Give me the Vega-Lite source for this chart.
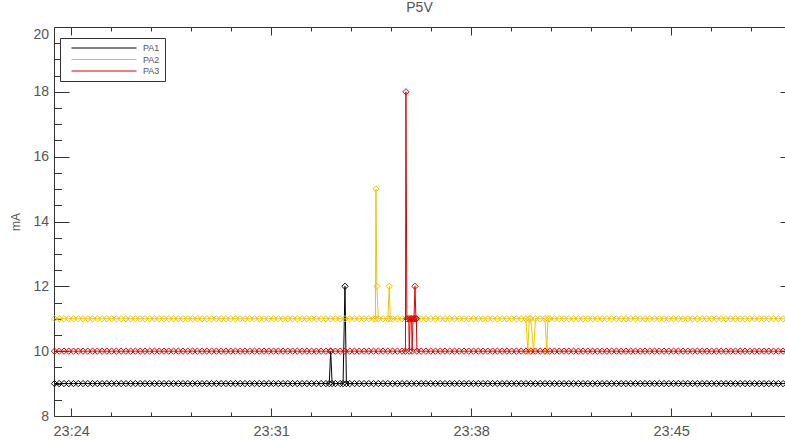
{
  "$schema": "https://vega.github.io/schema/vega-lite/v6.json",
  "width": 731,
  "height": 389,
  "autosize": "none",
  "padding": {"left": 54, "top": 27, "right": 0, "bottom": 25},
  "title": {"text": "P5V", "fontSize": 14, "fontWeight": "normal", "color": "#555", "offset": 12, "font": "Liberation Sans"},
  "data": {
    "format": {"parse": {"t": "utc:'%H:%M:%S'"}},
    "values": [
      {"s":"PA1","t":"23:23:25","v":9},{"s":"PA1","t":"23:23:35","v":9},{"s":"PA1","t":"23:23:45","v":9},{"s":"PA1","t":"23:23:55","v":9},
      {"s":"PA1","t":"23:24:05","v":9},{"s":"PA1","t":"23:24:15","v":9},{"s":"PA1","t":"23:24:25","v":9},{"s":"PA1","t":"23:24:35","v":9},{"s":"PA1","t":"23:24:45","v":9},{"s":"PA1","t":"23:24:55","v":9},
      {"s":"PA1","t":"23:25:05","v":9},{"s":"PA1","t":"23:25:15","v":9},{"s":"PA1","t":"23:25:25","v":9},{"s":"PA1","t":"23:25:35","v":9},{"s":"PA1","t":"23:25:45","v":9},{"s":"PA1","t":"23:25:55","v":9},
      {"s":"PA1","t":"23:26:05","v":9},{"s":"PA1","t":"23:26:15","v":9},{"s":"PA1","t":"23:26:25","v":9},{"s":"PA1","t":"23:26:35","v":9},{"s":"PA1","t":"23:26:45","v":9},{"s":"PA1","t":"23:26:55","v":9},
      {"s":"PA1","t":"23:27:05","v":9},{"s":"PA1","t":"23:27:15","v":9},{"s":"PA1","t":"23:27:25","v":9},{"s":"PA1","t":"23:27:35","v":9},{"s":"PA1","t":"23:27:45","v":9},{"s":"PA1","t":"23:27:55","v":9},
      {"s":"PA1","t":"23:28:05","v":9},{"s":"PA1","t":"23:28:15","v":9},{"s":"PA1","t":"23:28:25","v":9},{"s":"PA1","t":"23:28:35","v":9},{"s":"PA1","t":"23:28:45","v":9},{"s":"PA1","t":"23:28:55","v":9},
      {"s":"PA1","t":"23:29:05","v":9},{"s":"PA1","t":"23:29:15","v":9},{"s":"PA1","t":"23:29:25","v":9},{"s":"PA1","t":"23:29:35","v":9},{"s":"PA1","t":"23:29:45","v":9},{"s":"PA1","t":"23:29:55","v":9},
      {"s":"PA1","t":"23:30:05","v":9},{"s":"PA1","t":"23:30:15","v":9},{"s":"PA1","t":"23:30:25","v":9},{"s":"PA1","t":"23:30:35","v":9},{"s":"PA1","t":"23:30:45","v":9},{"s":"PA1","t":"23:30:55","v":9},
      {"s":"PA1","t":"23:31:05","v":9},{"s":"PA1","t":"23:31:15","v":9},{"s":"PA1","t":"23:31:25","v":9},{"s":"PA1","t":"23:31:35","v":9},{"s":"PA1","t":"23:31:45","v":9},{"s":"PA1","t":"23:31:55","v":9},
      {"s":"PA1","t":"23:32:05","v":9},{"s":"PA1","t":"23:32:15","v":9},{"s":"PA1","t":"23:32:25","v":9},{"s":"PA1","t":"23:32:35","v":9},{"s":"PA1","t":"23:32:45","v":9},{"s":"PA1","t":"23:32:55","v":9},
      {"s":"PA1","t":"23:33:02","v":9},{"s":"PA1","t":"23:33:05","v":10},{"s":"PA1","t":"23:33:08","v":9},{"s":"PA1","t":"23:33:15","v":9},{"s":"PA1","t":"23:33:25","v":9},{"s":"PA1","t":"23:33:31","v":9},{"s":"PA1","t":"23:33:35","v":12},{"s":"PA1","t":"23:33:38","v":9},{"s":"PA1","t":"23:33:45","v":9},{"s":"PA1","t":"23:33:55","v":9},
      {"s":"PA1","t":"23:34:05","v":9},{"s":"PA1","t":"23:34:15","v":9},{"s":"PA1","t":"23:34:25","v":9},{"s":"PA1","t":"23:34:35","v":9},{"s":"PA1","t":"23:34:45","v":9},{"s":"PA1","t":"23:34:55","v":9},
      {"s":"PA1","t":"23:35:05","v":9},{"s":"PA1","t":"23:35:15","v":9},{"s":"PA1","t":"23:35:25","v":9},{"s":"PA1","t":"23:35:35","v":9},{"s":"PA1","t":"23:35:45","v":9},{"s":"PA1","t":"23:35:55","v":9},
      {"s":"PA1","t":"23:36:05","v":9},{"s":"PA1","t":"23:36:15","v":9},{"s":"PA1","t":"23:36:25","v":9},{"s":"PA1","t":"23:36:35","v":9},{"s":"PA1","t":"23:36:45","v":9},{"s":"PA1","t":"23:36:55","v":9},
      {"s":"PA1","t":"23:37:05","v":9},{"s":"PA1","t":"23:37:15","v":9},{"s":"PA1","t":"23:37:25","v":9},{"s":"PA1","t":"23:37:35","v":9},{"s":"PA1","t":"23:37:45","v":9},{"s":"PA1","t":"23:37:55","v":9},
      {"s":"PA1","t":"23:38:05","v":9},{"s":"PA1","t":"23:38:15","v":9},{"s":"PA1","t":"23:38:25","v":9},{"s":"PA1","t":"23:38:35","v":9},{"s":"PA1","t":"23:38:45","v":9},{"s":"PA1","t":"23:38:55","v":9},
      {"s":"PA1","t":"23:39:05","v":9},{"s":"PA1","t":"23:39:15","v":9},{"s":"PA1","t":"23:39:25","v":9},{"s":"PA1","t":"23:39:35","v":9},{"s":"PA1","t":"23:39:45","v":9},{"s":"PA1","t":"23:39:55","v":9},
      {"s":"PA1","t":"23:40:05","v":9},{"s":"PA1","t":"23:40:15","v":9},{"s":"PA1","t":"23:40:25","v":9},{"s":"PA1","t":"23:40:35","v":9},{"s":"PA1","t":"23:40:45","v":9},{"s":"PA1","t":"23:40:55","v":9},
      {"s":"PA1","t":"23:41:05","v":9},{"s":"PA1","t":"23:41:15","v":9},{"s":"PA1","t":"23:41:25","v":9},{"s":"PA1","t":"23:41:35","v":9},{"s":"PA1","t":"23:41:45","v":9},{"s":"PA1","t":"23:41:55","v":9},
      {"s":"PA1","t":"23:42:05","v":9},{"s":"PA1","t":"23:42:15","v":9},{"s":"PA1","t":"23:42:25","v":9},{"s":"PA1","t":"23:42:35","v":9},{"s":"PA1","t":"23:42:45","v":9},{"s":"PA1","t":"23:42:55","v":9},
      {"s":"PA1","t":"23:43:05","v":9},{"s":"PA1","t":"23:43:15","v":9},{"s":"PA1","t":"23:43:25","v":9},{"s":"PA1","t":"23:43:35","v":9},{"s":"PA1","t":"23:43:45","v":9},{"s":"PA1","t":"23:43:55","v":9},
      {"s":"PA1","t":"23:44:05","v":9},{"s":"PA1","t":"23:44:15","v":9},{"s":"PA1","t":"23:44:25","v":9},{"s":"PA1","t":"23:44:35","v":9},{"s":"PA1","t":"23:44:45","v":9},{"s":"PA1","t":"23:44:55","v":9},
      {"s":"PA1","t":"23:45:05","v":9},{"s":"PA1","t":"23:45:15","v":9},{"s":"PA1","t":"23:45:25","v":9},{"s":"PA1","t":"23:45:35","v":9},{"s":"PA1","t":"23:45:45","v":9},{"s":"PA1","t":"23:45:55","v":9},
      {"s":"PA1","t":"23:46:05","v":9},{"s":"PA1","t":"23:46:15","v":9},{"s":"PA1","t":"23:46:25","v":9},{"s":"PA1","t":"23:46:35","v":9},{"s":"PA1","t":"23:46:45","v":9},{"s":"PA1","t":"23:46:55","v":9},
      {"s":"PA1","t":"23:47:05","v":9},{"s":"PA1","t":"23:47:15","v":9},{"s":"PA1","t":"23:47:25","v":9},{"s":"PA1","t":"23:47:35","v":9},{"s":"PA1","t":"23:47:45","v":9},{"s":"PA1","t":"23:47:55","v":9},
      {"s":"PA1","t":"23:48:05","v":9},{"s":"PA1","t":"23:48:15","v":9},{"s":"PA1","t":"23:48:25","v":9},{"s":"PA1","t":"23:48:35","v":9},{"s":"PA1","t":"23:48:45","v":9},{"s":"PA1","t":"23:48:55","v":9},
      {"s":"PA1","t":"23:49:05","v":9},

      {"s":"PA2","t":"23:23:25","v":11},{"s":"PA2","t":"23:23:35","v":11},{"s":"PA2","t":"23:23:45","v":11},{"s":"PA2","t":"23:23:55","v":11},
      {"s":"PA2","t":"23:24:05","v":11},{"s":"PA2","t":"23:24:15","v":11},{"s":"PA2","t":"23:24:25","v":11},{"s":"PA2","t":"23:24:35","v":11},{"s":"PA2","t":"23:24:45","v":11},{"s":"PA2","t":"23:24:55","v":11},
      {"s":"PA2","t":"23:25:05","v":11},{"s":"PA2","t":"23:25:15","v":11},{"s":"PA2","t":"23:25:25","v":11},{"s":"PA2","t":"23:25:35","v":11},{"s":"PA2","t":"23:25:45","v":11},{"s":"PA2","t":"23:25:55","v":11},
      {"s":"PA2","t":"23:26:05","v":11},{"s":"PA2","t":"23:26:15","v":11},{"s":"PA2","t":"23:26:25","v":11},{"s":"PA2","t":"23:26:35","v":11},{"s":"PA2","t":"23:26:45","v":11},{"s":"PA2","t":"23:26:55","v":11},
      {"s":"PA2","t":"23:27:05","v":11},{"s":"PA2","t":"23:27:15","v":11},{"s":"PA2","t":"23:27:25","v":11},{"s":"PA2","t":"23:27:35","v":11},{"s":"PA2","t":"23:27:45","v":11},{"s":"PA2","t":"23:27:55","v":11},
      {"s":"PA2","t":"23:28:05","v":11},{"s":"PA2","t":"23:28:15","v":11},{"s":"PA2","t":"23:28:25","v":11},{"s":"PA2","t":"23:28:35","v":11},{"s":"PA2","t":"23:28:45","v":11},{"s":"PA2","t":"23:28:55","v":11},
      {"s":"PA2","t":"23:29:05","v":11},{"s":"PA2","t":"23:29:15","v":11},{"s":"PA2","t":"23:29:25","v":11},{"s":"PA2","t":"23:29:35","v":11},{"s":"PA2","t":"23:29:45","v":11},{"s":"PA2","t":"23:29:55","v":11},
      {"s":"PA2","t":"23:30:05","v":11},{"s":"PA2","t":"23:30:15","v":11},{"s":"PA2","t":"23:30:25","v":11},{"s":"PA2","t":"23:30:35","v":11},{"s":"PA2","t":"23:30:45","v":11},{"s":"PA2","t":"23:30:55","v":11},
      {"s":"PA2","t":"23:31:05","v":11},{"s":"PA2","t":"23:31:15","v":11},{"s":"PA2","t":"23:31:25","v":11},{"s":"PA2","t":"23:31:35","v":11},{"s":"PA2","t":"23:31:45","v":11},{"s":"PA2","t":"23:31:55","v":11},
      {"s":"PA2","t":"23:32:05","v":11},{"s":"PA2","t":"23:32:15","v":11},{"s":"PA2","t":"23:32:25","v":11},{"s":"PA2","t":"23:32:35","v":11},{"s":"PA2","t":"23:32:45","v":11},{"s":"PA2","t":"23:32:55","v":11},
      {"s":"PA2","t":"23:33:05","v":11},{"s":"PA2","t":"23:33:15","v":11},{"s":"PA2","t":"23:33:25","v":11},{"s":"PA2","t":"23:33:35","v":11},{"s":"PA2","t":"23:33:45","v":11},{"s":"PA2","t":"23:33:55","v":11},
      {"s":"PA2","t":"23:34:05","v":11},{"s":"PA2","t":"23:34:15","v":11},{"s":"PA2","t":"23:34:25","v":11},{"s":"PA2","t":"23:34:35","v":11},{"s":"PA2","t":"23:34:39","v":11},{"s":"PA2","t":"23:34:40","v":15},{"s":"PA2","t":"23:34:42","v":12},{"s":"PA2","t":"23:34:45","v":11},{"s":"PA2","t":"23:34:55","v":11},
      {"s":"PA2","t":"23:35:05","v":11},{"s":"PA2","t":"23:35:08","v":12},{"s":"PA2","t":"23:35:10","v":11},{"s":"PA2","t":"23:35:15","v":11},{"s":"PA2","t":"23:35:25","v":11},{"s":"PA2","t":"23:35:35","v":11},{"s":"PA2","t":"23:35:45","v":11},{"s":"PA2","t":"23:35:55","v":11},
      {"s":"PA2","t":"23:36:05","v":11},{"s":"PA2","t":"23:36:15","v":11},{"s":"PA2","t":"23:36:25","v":11},{"s":"PA2","t":"23:36:35","v":11},{"s":"PA2","t":"23:36:45","v":11},{"s":"PA2","t":"23:36:55","v":11},
      {"s":"PA2","t":"23:37:05","v":11},{"s":"PA2","t":"23:37:15","v":11},{"s":"PA2","t":"23:37:25","v":11},{"s":"PA2","t":"23:37:35","v":11},{"s":"PA2","t":"23:37:45","v":11},{"s":"PA2","t":"23:37:55","v":11},
      {"s":"PA2","t":"23:38:05","v":11},{"s":"PA2","t":"23:38:15","v":11},{"s":"PA2","t":"23:38:25","v":11},{"s":"PA2","t":"23:38:35","v":11},{"s":"PA2","t":"23:38:45","v":11},{"s":"PA2","t":"23:38:55","v":11},
      {"s":"PA2","t":"23:39:05","v":11},{"s":"PA2","t":"23:39:15","v":11},{"s":"PA2","t":"23:39:25","v":11},{"s":"PA2","t":"23:39:35","v":11},{"s":"PA2","t":"23:39:45","v":11},{"s":"PA2","t":"23:39:55","v":11},
      {"s":"PA2","t":"23:39:59","v":10},{"s":"PA2","t":"23:40:02","v":11},{"s":"PA2","t":"23:40:05","v":11},{"s":"PA2","t":"23:40:11","v":10},
      {"s":"PA2","t":"23:40:15","v":11},{"s":"PA2","t":"23:40:25","v":11},{"s":"PA2","t":"23:40:35","v":11},{"s":"PA2","t":"23:40:39","v":10},{"s":"PA2","t":"23:40:41","v":11},{"s":"PA2","t":"23:40:45","v":11},{"s":"PA2","t":"23:40:55","v":11},
      {"s":"PA2","t":"23:41:05","v":11},{"s":"PA2","t":"23:41:15","v":11},{"s":"PA2","t":"23:41:25","v":11},{"s":"PA2","t":"23:41:35","v":11},{"s":"PA2","t":"23:41:45","v":11},{"s":"PA2","t":"23:41:55","v":11},
      {"s":"PA2","t":"23:42:05","v":11},{"s":"PA2","t":"23:42:15","v":11},{"s":"PA2","t":"23:42:25","v":11},{"s":"PA2","t":"23:42:35","v":11},{"s":"PA2","t":"23:42:45","v":11},{"s":"PA2","t":"23:42:55","v":11},
      {"s":"PA2","t":"23:43:05","v":11},{"s":"PA2","t":"23:43:15","v":11},{"s":"PA2","t":"23:43:25","v":11},{"s":"PA2","t":"23:43:35","v":11},{"s":"PA2","t":"23:43:45","v":11},{"s":"PA2","t":"23:43:55","v":11},
      {"s":"PA2","t":"23:44:05","v":11},{"s":"PA2","t":"23:44:15","v":11},{"s":"PA2","t":"23:44:25","v":11},{"s":"PA2","t":"23:44:35","v":11},{"s":"PA2","t":"23:44:45","v":11},{"s":"PA2","t":"23:44:55","v":11},
      {"s":"PA2","t":"23:45:05","v":11},{"s":"PA2","t":"23:45:15","v":11},{"s":"PA2","t":"23:45:25","v":11},{"s":"PA2","t":"23:45:35","v":11},{"s":"PA2","t":"23:45:45","v":11},{"s":"PA2","t":"23:45:55","v":11},
      {"s":"PA2","t":"23:46:05","v":11},{"s":"PA2","t":"23:46:15","v":11},{"s":"PA2","t":"23:46:25","v":11},{"s":"PA2","t":"23:46:35","v":11},{"s":"PA2","t":"23:46:45","v":11},{"s":"PA2","t":"23:46:55","v":11},
      {"s":"PA2","t":"23:47:05","v":11},{"s":"PA2","t":"23:47:15","v":11},{"s":"PA2","t":"23:47:25","v":11},{"s":"PA2","t":"23:47:35","v":11},{"s":"PA2","t":"23:47:45","v":11},{"s":"PA2","t":"23:47:55","v":11},
      {"s":"PA2","t":"23:48:05","v":11},{"s":"PA2","t":"23:48:15","v":11},{"s":"PA2","t":"23:48:25","v":11},{"s":"PA2","t":"23:48:35","v":11},{"s":"PA2","t":"23:48:45","v":11},{"s":"PA2","t":"23:48:55","v":11},
      {"s":"PA2","t":"23:49:05","v":11},

      {"s":"PA3","t":"23:23:25","v":10},{"s":"PA3","t":"23:23:35","v":10},{"s":"PA3","t":"23:23:45","v":10},{"s":"PA3","t":"23:23:55","v":10},
      {"s":"PA3","t":"23:24:05","v":10},{"s":"PA3","t":"23:24:15","v":10},{"s":"PA3","t":"23:24:25","v":10},{"s":"PA3","t":"23:24:35","v":10},{"s":"PA3","t":"23:24:45","v":10},{"s":"PA3","t":"23:24:55","v":10},
      {"s":"PA3","t":"23:25:05","v":10},{"s":"PA3","t":"23:25:15","v":10},{"s":"PA3","t":"23:25:25","v":10},{"s":"PA3","t":"23:25:35","v":10},{"s":"PA3","t":"23:25:45","v":10},{"s":"PA3","t":"23:25:55","v":10},
      {"s":"PA3","t":"23:26:05","v":10},{"s":"PA3","t":"23:26:15","v":10},{"s":"PA3","t":"23:26:25","v":10},{"s":"PA3","t":"23:26:35","v":10},{"s":"PA3","t":"23:26:45","v":10},{"s":"PA3","t":"23:26:55","v":10},
      {"s":"PA3","t":"23:27:05","v":10},{"s":"PA3","t":"23:27:15","v":10},{"s":"PA3","t":"23:27:25","v":10},{"s":"PA3","t":"23:27:35","v":10},{"s":"PA3","t":"23:27:45","v":10},{"s":"PA3","t":"23:27:55","v":10},
      {"s":"PA3","t":"23:28:05","v":10},{"s":"PA3","t":"23:28:15","v":10},{"s":"PA3","t":"23:28:25","v":10},{"s":"PA3","t":"23:28:35","v":10},{"s":"PA3","t":"23:28:45","v":10},{"s":"PA3","t":"23:28:55","v":10},
      {"s":"PA3","t":"23:29:05","v":10},{"s":"PA3","t":"23:29:15","v":10},{"s":"PA3","t":"23:29:25","v":10},{"s":"PA3","t":"23:29:35","v":10},{"s":"PA3","t":"23:29:45","v":10},{"s":"PA3","t":"23:29:55","v":10},
      {"s":"PA3","t":"23:30:05","v":10},{"s":"PA3","t":"23:30:15","v":10},{"s":"PA3","t":"23:30:25","v":10},{"s":"PA3","t":"23:30:35","v":10},{"s":"PA3","t":"23:30:45","v":10},{"s":"PA3","t":"23:30:55","v":10},
      {"s":"PA3","t":"23:31:05","v":10},{"s":"PA3","t":"23:31:15","v":10},{"s":"PA3","t":"23:31:25","v":10},{"s":"PA3","t":"23:31:35","v":10},{"s":"PA3","t":"23:31:45","v":10},{"s":"PA3","t":"23:31:55","v":10},
      {"s":"PA3","t":"23:32:05","v":10},{"s":"PA3","t":"23:32:15","v":10},{"s":"PA3","t":"23:32:25","v":10},{"s":"PA3","t":"23:32:35","v":10},{"s":"PA3","t":"23:32:45","v":10},{"s":"PA3","t":"23:32:55","v":10},
      {"s":"PA3","t":"23:33:05","v":10},{"s":"PA3","t":"23:33:15","v":10},{"s":"PA3","t":"23:33:25","v":10},{"s":"PA3","t":"23:33:35","v":10},{"s":"PA3","t":"23:33:45","v":10},{"s":"PA3","t":"23:33:55","v":10},
      {"s":"PA3","t":"23:34:05","v":10},{"s":"PA3","t":"23:34:15","v":10},{"s":"PA3","t":"23:34:25","v":10},{"s":"PA3","t":"23:34:35","v":10},{"s":"PA3","t":"23:34:45","v":10},{"s":"PA3","t":"23:34:55","v":10},
      {"s":"PA3","t":"23:35:05","v":10},{"s":"PA3","t":"23:35:15","v":10},{"s":"PA3","t":"23:35:25","v":10},{"s":"PA3","t":"23:35:35","v":10},
      {"s":"PA3","t":"23:35:42","v":10},{"s":"PA3","t":"23:35:43","v":18},{"s":"PA3","t":"23:35:45","v":11},{"s":"PA3","t":"23:35:49","v":11},{"s":"PA3","t":"23:35:50","v":10},{"s":"PA3","t":"23:35:52","v":11},
      {"s":"PA3","t":"23:35:55","v":11},{"s":"PA3","t":"23:35:56","v":10},{"s":"PA3","t":"23:35:58","v":11},{"s":"PA3","t":"23:36:00","v":11},{"s":"PA3","t":"23:36:02","v":12},{"s":"PA3","t":"23:36:04","v":11},{"s":"PA3","t":"23:36:05","v":11},{"s":"PA3","t":"23:36:06","v":10},
      {"s":"PA3","t":"23:36:15","v":10},{"s":"PA3","t":"23:36:25","v":10},{"s":"PA3","t":"23:36:35","v":10},{"s":"PA3","t":"23:36:45","v":10},{"s":"PA3","t":"23:36:55","v":10},
      {"s":"PA3","t":"23:37:05","v":10},{"s":"PA3","t":"23:37:15","v":10},{"s":"PA3","t":"23:37:25","v":10},{"s":"PA3","t":"23:37:35","v":10},{"s":"PA3","t":"23:37:45","v":10},{"s":"PA3","t":"23:37:55","v":10},
      {"s":"PA3","t":"23:38:05","v":10},{"s":"PA3","t":"23:38:15","v":10},{"s":"PA3","t":"23:38:25","v":10},{"s":"PA3","t":"23:38:35","v":10},{"s":"PA3","t":"23:38:45","v":10},{"s":"PA3","t":"23:38:55","v":10},
      {"s":"PA3","t":"23:39:05","v":10},{"s":"PA3","t":"23:39:15","v":10},{"s":"PA3","t":"23:39:25","v":10},{"s":"PA3","t":"23:39:35","v":10},{"s":"PA3","t":"23:39:45","v":10},{"s":"PA3","t":"23:39:55","v":10},
      {"s":"PA3","t":"23:40:05","v":10},{"s":"PA3","t":"23:40:15","v":10},{"s":"PA3","t":"23:40:25","v":10},{"s":"PA3","t":"23:40:35","v":10},{"s":"PA3","t":"23:40:45","v":10},{"s":"PA3","t":"23:40:55","v":10},
      {"s":"PA3","t":"23:41:05","v":10},{"s":"PA3","t":"23:41:15","v":10},{"s":"PA3","t":"23:41:25","v":10},{"s":"PA3","t":"23:41:35","v":10},{"s":"PA3","t":"23:41:45","v":10},{"s":"PA3","t":"23:41:55","v":10},
      {"s":"PA3","t":"23:42:05","v":10},{"s":"PA3","t":"23:42:15","v":10},{"s":"PA3","t":"23:42:25","v":10},{"s":"PA3","t":"23:42:35","v":10},{"s":"PA3","t":"23:42:45","v":10},{"s":"PA3","t":"23:42:55","v":10},
      {"s":"PA3","t":"23:43:05","v":10},{"s":"PA3","t":"23:43:15","v":10},{"s":"PA3","t":"23:43:25","v":10},{"s":"PA3","t":"23:43:35","v":10},{"s":"PA3","t":"23:43:45","v":10},{"s":"PA3","t":"23:43:55","v":10},
      {"s":"PA3","t":"23:44:05","v":10},{"s":"PA3","t":"23:44:15","v":10},{"s":"PA3","t":"23:44:25","v":10},{"s":"PA3","t":"23:44:35","v":10},{"s":"PA3","t":"23:44:45","v":10},{"s":"PA3","t":"23:44:55","v":10},
      {"s":"PA3","t":"23:45:05","v":10},{"s":"PA3","t":"23:45:15","v":10},{"s":"PA3","t":"23:45:25","v":10},{"s":"PA3","t":"23:45:35","v":10},{"s":"PA3","t":"23:45:45","v":10},{"s":"PA3","t":"23:45:55","v":10},
      {"s":"PA3","t":"23:46:05","v":10},{"s":"PA3","t":"23:46:15","v":10},{"s":"PA3","t":"23:46:25","v":10},{"s":"PA3","t":"23:46:35","v":10},{"s":"PA3","t":"23:46:45","v":10},{"s":"PA3","t":"23:46:55","v":10},
      {"s":"PA3","t":"23:47:05","v":10},{"s":"PA3","t":"23:47:15","v":10},{"s":"PA3","t":"23:47:25","v":10},{"s":"PA3","t":"23:47:35","v":10},{"s":"PA3","t":"23:47:45","v":10},{"s":"PA3","t":"23:47:55","v":10},
      {"s":"PA3","t":"23:48:05","v":10},{"s":"PA3","t":"23:48:15","v":10},{"s":"PA3","t":"23:48:25","v":10},{"s":"PA3","t":"23:48:35","v":10},{"s":"PA3","t":"23:48:45","v":10},{"s":"PA3","t":"23:48:55","v":10},
      {"s":"PA3","t":"23:49:05","v":10}
    ]
  },
  "layer": [
    {
      "encoding": {
        "x": {
          "field": "t", "type": "temporal", "title": null,
          "scale": {"type": "utc", "domain": [
            {"year": 1900, "month": 1, "date": 1, "hours": 23, "minutes": 23, "seconds": 24, "utc": true},
            {"year": 1900, "month": 1, "date": 1, "hours": 23, "minutes": 48, "seconds": 59, "utc": true}
          ]},
          "axis": {
            "orient": "bottom",
            "values": [
              {"year": 1900, "month": 1, "date": 1, "hours": 23, "minutes": 24, "seconds": 0, "utc": true},
              {"year": 1900, "month": 1, "date": 1, "hours": 23, "minutes": 25, "seconds": 24, "utc": true},
              {"year": 1900, "month": 1, "date": 1, "hours": 23, "minutes": 26, "seconds": 48, "utc": true},
              {"year": 1900, "month": 1, "date": 1, "hours": 23, "minutes": 28, "seconds": 12, "utc": true},
              {"year": 1900, "month": 1, "date": 1, "hours": 23, "minutes": 29, "seconds": 36, "utc": true},
              {"year": 1900, "month": 1, "date": 1, "hours": 23, "minutes": 31, "seconds": 0, "utc": true},
              {"year": 1900, "month": 1, "date": 1, "hours": 23, "minutes": 32, "seconds": 24, "utc": true},
              {"year": 1900, "month": 1, "date": 1, "hours": 23, "minutes": 33, "seconds": 48, "utc": true},
              {"year": 1900, "month": 1, "date": 1, "hours": 23, "minutes": 35, "seconds": 12, "utc": true},
              {"year": 1900, "month": 1, "date": 1, "hours": 23, "minutes": 36, "seconds": 36, "utc": true},
              {"year": 1900, "month": 1, "date": 1, "hours": 23, "minutes": 38, "seconds": 0, "utc": true},
              {"year": 1900, "month": 1, "date": 1, "hours": 23, "minutes": 39, "seconds": 24, "utc": true},
              {"year": 1900, "month": 1, "date": 1, "hours": 23, "minutes": 40, "seconds": 48, "utc": true},
              {"year": 1900, "month": 1, "date": 1, "hours": 23, "minutes": 42, "seconds": 12, "utc": true},
              {"year": 1900, "month": 1, "date": 1, "hours": 23, "minutes": 43, "seconds": 36, "utc": true},
              {"year": 1900, "month": 1, "date": 1, "hours": 23, "minutes": 45, "seconds": 0, "utc": true},
              {"year": 1900, "month": 1, "date": 1, "hours": 23, "minutes": 46, "seconds": 24, "utc": true},
              {"year": 1900, "month": 1, "date": 1, "hours": 23, "minutes": 47, "seconds": 48, "utc": true}
            ],
            "labelExpr": "utcseconds(datum.value) == 0 ? utcFormat(datum.value, '%H:%M') : ''",
            "tickSize": {"condition": {"test": "utcseconds(datum.value) == 0", "value": -8}, "value": -4},
            "labelPadding": 16,
            "labelFontSize": 14.5,
            "labelFlush": false,
            "labelOverlap": false
          }
        },
        "y": {
          "field": "v", "type": "quantitative", "title": "mA",
          "scale": {"domain": [8, 20], "nice": false, "zero": false},
          "axis": {
            "orient": "left",
            "values": [8, 8.5, 9, 9.5, 10, 10.5, 11, 11.5, 12, 12.5, 13, 13.5, 14, 14.5, 15, 15.5, 16, 16.5, 17, 17.5, 18, 18.5, 19, 19.5, 20],
            "labelExpr": "datum.value % 2 == 0 ? format(datum.value, 'd') : ''",
            "tickSize": {"condition": {"test": "datum.value % 2 == 0", "value": -15}, "value": -7.5},
            "labelBaseline": {"condition": {"test": "datum.value == 20", "value": "top"}, "value": "middle"},
            "labelPadding": 20.5,
            "labelFlush": false,
            "labelOverlap": false,
            "titlePadding": 10
          }
        },
        "color": {
          "field": "s", "type": "nominal",
          "scale": {"domain": ["PA1", "PA2", "PA3"], "range": ["#000000", "#f2c500", "#e00000"]},
          "legend": {
            "title": null,
            "orient": "none",
            "legendX": 6,
            "legendY": 11,
            "direction": "vertical",
            "symbolType": "stroke",
            "symbolSize": 4225,
            "symbolStrokeWidth": 1,
            "clipHeight": 10,
            "rowPadding": 1.5,
            "padding": 5,
            "symbolOffset": 6,
            "labelOffset": 6,
            "labelFontSize": 9,
            "labelColor": "#555",
            "strokeColor": "#333",
            "fillColor": "#ffffff"
          }
        }
      },
      "layer": [
        {
          "transform": [{"filter": "datum.s == 'PA1'"}],
          "mark": {"type": "line", "strokeWidth": 1, "point": {"shape": "diamond", "filled": false, "size": 40, "strokeWidth": 1, "opacity": 1}}
        },
        {
          "transform": [{"filter": "datum.s == 'PA2'"}],
          "mark": {"type": "line", "strokeWidth": 1, "point": {"shape": "diamond", "filled": false, "size": 40, "strokeWidth": 1, "opacity": 1}}
        },
        {
          "transform": [{"filter": "datum.s == 'PA3'"}],
          "mark": {"type": "line", "strokeWidth": 1, "point": {"shape": "diamond", "filled": false, "size": 40, "strokeWidth": 1, "opacity": 1}}
        }
      ]
    },
    {
      "transform": [{"filter": "false"}],
      "mark": {"type": "point", "opacity": 0},
      "encoding": {
        "x": {
          "field": "t", "type": "temporal", "title": null,
          "scale": {"type": "utc", "domain": [
            {"year": 1900, "month": 1, "date": 1, "hours": 23, "minutes": 23, "seconds": 24, "utc": true},
            {"year": 1900, "month": 1, "date": 1, "hours": 23, "minutes": 48, "seconds": 59, "utc": true}
          ]},
          "axis": {
            "orient": "top",
            "labels": false,
            "values": [
              {"year": 1900, "month": 1, "date": 1, "hours": 23, "minutes": 24, "seconds": 0, "utc": true},
              {"year": 1900, "month": 1, "date": 1, "hours": 23, "minutes": 25, "seconds": 24, "utc": true},
              {"year": 1900, "month": 1, "date": 1, "hours": 23, "minutes": 26, "seconds": 48, "utc": true},
              {"year": 1900, "month": 1, "date": 1, "hours": 23, "minutes": 28, "seconds": 12, "utc": true},
              {"year": 1900, "month": 1, "date": 1, "hours": 23, "minutes": 29, "seconds": 36, "utc": true},
              {"year": 1900, "month": 1, "date": 1, "hours": 23, "minutes": 31, "seconds": 0, "utc": true},
              {"year": 1900, "month": 1, "date": 1, "hours": 23, "minutes": 32, "seconds": 24, "utc": true},
              {"year": 1900, "month": 1, "date": 1, "hours": 23, "minutes": 33, "seconds": 48, "utc": true},
              {"year": 1900, "month": 1, "date": 1, "hours": 23, "minutes": 35, "seconds": 12, "utc": true},
              {"year": 1900, "month": 1, "date": 1, "hours": 23, "minutes": 36, "seconds": 36, "utc": true},
              {"year": 1900, "month": 1, "date": 1, "hours": 23, "minutes": 38, "seconds": 0, "utc": true},
              {"year": 1900, "month": 1, "date": 1, "hours": 23, "minutes": 39, "seconds": 24, "utc": true},
              {"year": 1900, "month": 1, "date": 1, "hours": 23, "minutes": 40, "seconds": 48, "utc": true},
              {"year": 1900, "month": 1, "date": 1, "hours": 23, "minutes": 42, "seconds": 12, "utc": true},
              {"year": 1900, "month": 1, "date": 1, "hours": 23, "minutes": 43, "seconds": 36, "utc": true},
              {"year": 1900, "month": 1, "date": 1, "hours": 23, "minutes": 45, "seconds": 0, "utc": true},
              {"year": 1900, "month": 1, "date": 1, "hours": 23, "minutes": 46, "seconds": 24, "utc": true},
              {"year": 1900, "month": 1, "date": 1, "hours": 23, "minutes": 47, "seconds": 48, "utc": true}
            ],
            "tickSize": {"condition": {"test": "utcseconds(datum.value) == 0", "value": -8}, "value": -4}
          }
        },
        "y": {
          "field": "v", "type": "quantitative", "title": null,
          "scale": {"domain": [8, 20], "nice": false, "zero": false},
          "axis": {
            "orient": "right",
            "offset": 10,
            "labels": false,
            "values": [8, 8.5, 9, 9.5, 10, 10.5, 11, 11.5, 12, 12.5, 13, 13.5, 14, 14.5, 15, 15.5, 16, 16.5, 17, 17.5, 18, 18.5, 19, 19.5, 20],
            "tickSize": {"condition": {"test": "datum.value % 2 == 0", "value": -15}, "value": -7.5}
          }
        }
      }
    }
  ],
  "resolve": {"axis": {"x": "independent", "y": "independent"}},
  "config": {
    "font": "Liberation Sans",
    "view": {"stroke": null},
    "axis": {
      "grid": false,
      "domainColor": "#333",
      "domainWidth": 1,
      "tickColor": "#333",
      "tickWidth": 1,
      "labelColor": "#555",
      "labelFontSize": 14,
      "labelFont": "Liberation Sans",
      "titleColor": "#555",
      "titleFontSize": 12,
      "titleFontWeight": "normal",
      "titleFont": "Liberation Sans"
    }
  }
}
